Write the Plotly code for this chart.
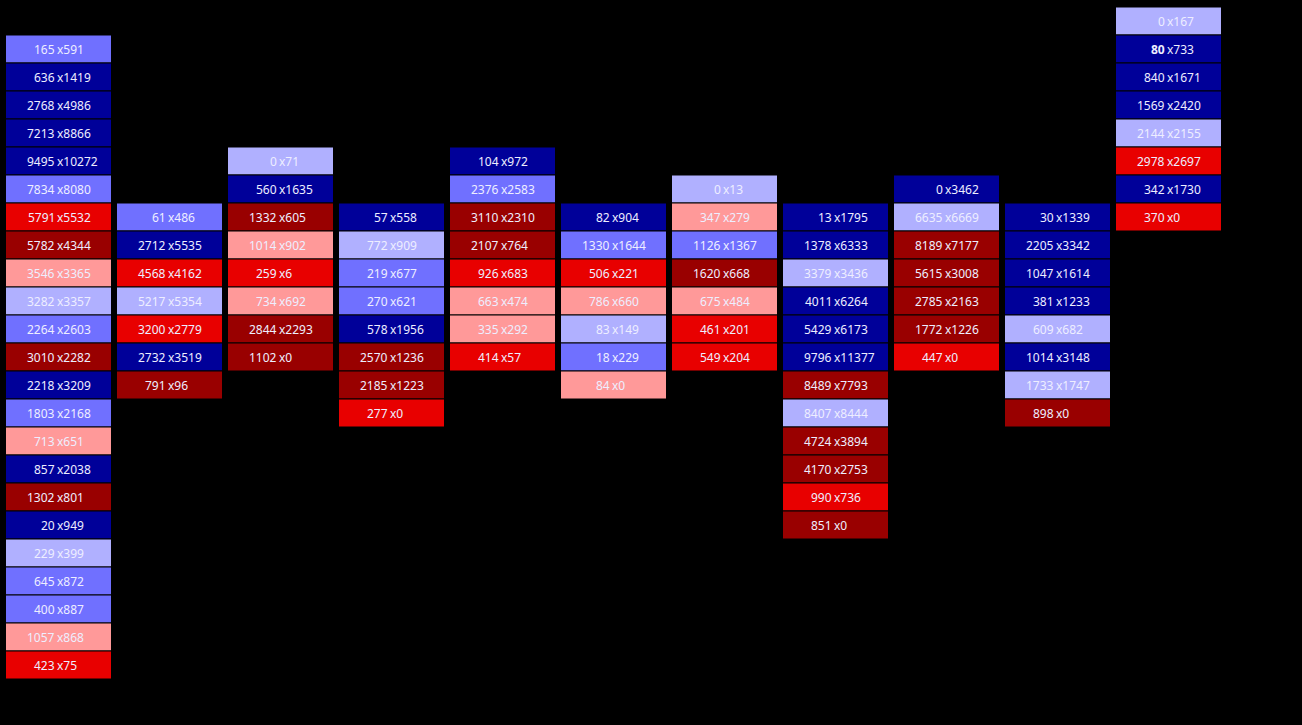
import plotly.graph_objects as go

# footprint: 11 bars, each cell = bid x ask at one price level (level 0 = top)
top_level = [1, 7, 5, 7, 5, 7, 6, 7, 6, 7, 0]

col01 = [(165, 591), (636, 1419), (2768, 4986), (7213, 8866), (9495, 10272),
         (7834, 8080), (5791, 5532), (5782, 4344), (3546, 3365), (3282, 3357),
         (2264, 2603), (3010, 2282), (2218, 3209), (1803, 2168), (713, 651),
         (857, 2038), (1302, 801), (20, 949), (229, 399), (645, 872),
         (400, 887), (1057, 868), (423, 75)]
col02 = [(61, 486), (2712, 5535), (4568, 4162), (5217, 5354), (3200, 2779),
         (2732, 3519), (791, 96)]
col03 = [(0, 71), (560, 1635), (1332, 605), (1014, 902), (259, 6),
         (734, 692), (2844, 2293), (1102, 0)]
col04 = [(57, 558), (772, 909), (219, 677), (270, 621), (578, 1956),
         (2570, 1236), (2185, 1223), (277, 0)]
col05 = [(104, 972), (2376, 2583), (3110, 2310), (2107, 764), (926, 683),
         (663, 474), (335, 292), (414, 57)]
col06 = [(82, 904), (1330, 1644), (506, 221), (786, 660), (83, 149),
         (18, 229), (84, 0)]
col07 = [(0, 13), (347, 279), (1126, 1367), (1620, 668), (675, 484),
         (461, 201), (549, 204)]
col08 = [(13, 1795), (1378, 6333), (3379, 3436), (4011, 6264), (5429, 6173),
         (9796, 11377), (8489, 7793), (8407, 8444), (4724, 3894), (4170, 2753),
         (990, 736), (851, 0)]
col09 = [(0, 3462), (6635, 6669), (8189, 7177), (5615, 3008), (2785, 2163),
         (1772, 1226), (447, 0)]
col10 = [(30, 1339), (2205, 3342), (1047, 1614), (381, 1233), (609, 682),
         (1014, 3148), (1733, 1747), (898, 0)]
col11 = [(0, 167), (80, 733), (840, 1671), (1569, 2420), (2144, 2155),
         (2978, 2697), (342, 1730), (370, 0)]

columns = [col01, col02, col03, col04, col05, col06, col07, col08, col09, col10, col11]
bold_cell = (10, 1)  # bar, cell index with the bold bid


def cell_color(bid, ask):
    d = ask - bid
    if d > 0:
        return "#7070ff" if 200 <= d <= 500 else ("#000099" if d > 500 else "#b0b0ff")
    d = -d
    return "#e80000" if 200 <= d <= 500 else ("#990000" if d > 500 else "#ff9999")


xs, bases, colors, notes = [], [], [], []
for i, cells in enumerate(columns):
    for j, (bid, ask) in enumerate(cells):
        lvl = top_level[i] + j
        xs.append(i)
        bases.append(lvl)
        colors.append(cell_color(bid, ask))
        left = f"<b>{bid}</b>" if (i, j) == bold_cell else str(bid)
        notes.append(dict(x=i, y=lvl + 0.5, text=left, xanchor="right", xshift=-4))
        notes.append(dict(x=i, y=lvl + 0.5, text=f"x{ask}", xanchor="left", xshift=-2))

fig = go.Figure(go.Bar(
    x=xs, y=[1] * len(xs), base=bases,
    width=106 / 111,
    marker=dict(color=colors, line=dict(color="black", width=1)),
    hoverinfo="skip",
))

for n in notes:
    n.update(showarrow=False, yanchor="middle", borderpad=0, borderwidth=0,
             font=dict(family="Noto Sans", size=12, color="#eeeeff"))
fig.update_layout(annotations=notes)

fig.update_layout(
    width=1302, height=725,
    margin=dict(l=0, r=0, t=7, b=18),
    paper_bgcolor="black", plot_bgcolor="black",
    showlegend=False,
    xaxis=dict(range=[-58.5 / 111, -58.5 / 111 + 1302 / 111], visible=False, fixedrange=True),
    yaxis=dict(range=[25, 0], visible=False, fixedrange=True),
)

fig.write_html(
    "out.html",
    config={"displayModeBar": False},
    post_script="document.body.style.margin='0';document.body.style.background='black';"
                "document.body.style.overflow='hidden';",
)
